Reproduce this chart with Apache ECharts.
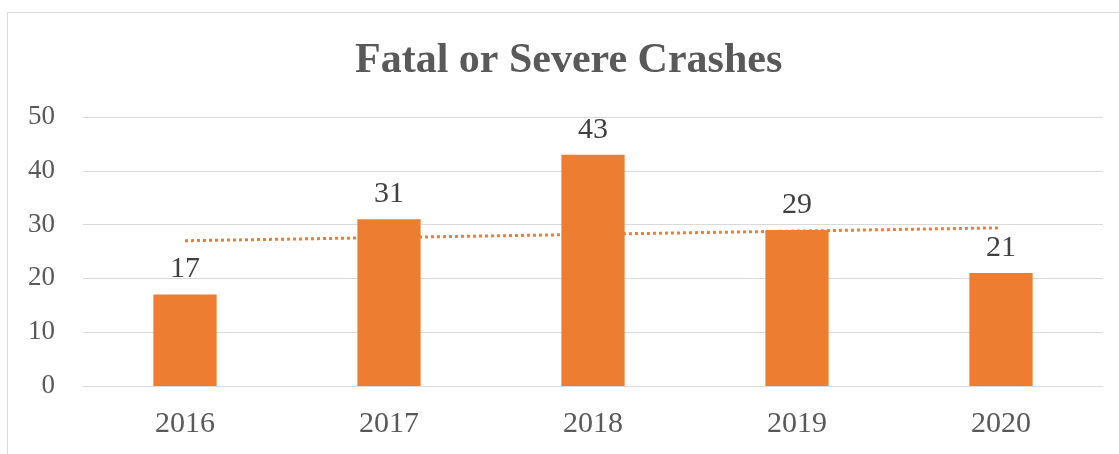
<!DOCTYPE html>
<html>
<head>
<meta charset="utf-8">
<script src="https://cdn.jsdelivr.net/npm/echarts@6/dist/echarts.min.js"></script>
<style>
html, body { margin: 0; padding: 0; background: #fff; }
#main { width: 1119px; height: 454px; }
</style>
</head>
<body>
<div id="main"></div>
<script>
// chart data
var years = ['2016', '2017', '2018', '2019', '2020'];
var crashes = [17, 31, 43, 29, 21];
// dotted trend line
var trend = [27.0, 27.6, 28.2, 28.8, 29.4];

var myChart = echarts.init(document.getElementById('main'));

myChart.setOption({
	animation: false,
	title: {
		text: 'Fatal or Severe Crashes',
		left: 350,
		top: 35,
		textStyle: {
			fontFamily: 'Liberation Serif',
			fontWeight: 'bold',
			fontSize: 42,
			color: '#595959'
		}
	},
	graphic: [{
		type: 'rect',
		shape: { x: 7.5, y: 12.5, width: 1200, height: 600 },
		style: { fill: 'none', stroke: '#d9d9d9', lineWidth: 1 },
		silent: true
	}],
	grid: {
		left: 83,
		right: 16,
		top: 117,
		bottom: 68
	},
	xAxis: {
		type: 'category',
		data: years,
		axisTick: { show: false },
		axisLine: { lineStyle: { color: '#d9d9d9', width: 1 } },
		axisLabel: {
			margin: 23,
			fontFamily: 'Liberation Serif',
			fontSize: 30,
			color: '#595959'
		}
	},
	yAxis: {
		type: 'value',
		min: 0,
		max: 50,
		interval: 10,
		axisLine: { show: false },
		axisTick: { show: false },
		splitLine: { lineStyle: { color: '#d9d9d9', width: 1 } },
		axisLabel: {
			margin: 28,
			fontFamily: 'Liberation Serif',
			fontSize: 27,
			color: '#595959'
		}
	},
	series: [{
		name: 'Trend',
		type: 'line',
		data: trend,
		z: 1,
		symbol: 'none',
		silent: true,
		lineStyle: { color: '#ED7D31', width: 3, type: 'dotted' }
	}, {
		name: 'Crashes',
		type: 'bar',
		data: crashes,
		z: 3,
		barWidth: '31%',
		itemStyle: { color: '#ED7D31' },
		label: {
			show: true,
			position: 'top',
			distance: 10,
			fontFamily: 'Liberation Serif',
			fontSize: 30,
			color: '#404040'
		}
	}]
});
</script>
</body>
</html>
